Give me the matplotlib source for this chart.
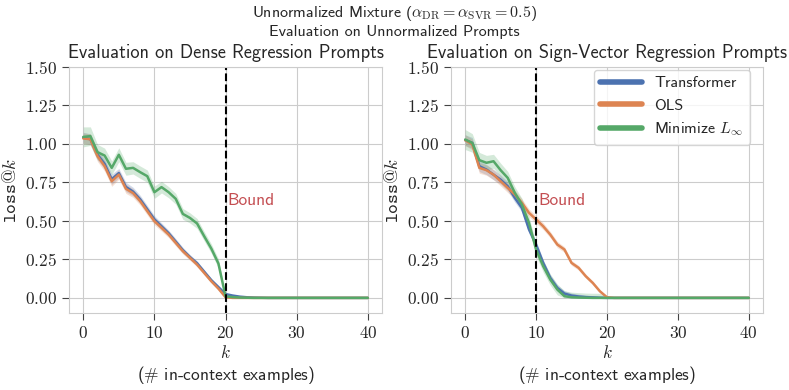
import matplotlib
matplotlib.use("Agg")
import matplotlib.pyplot as plt
import seaborn as sns
import numpy as np
from matplotlib.ticker import FuncFormatter

# k = number of in-context examples
k = list(range(41))

# Dense regression prompts (left panel)
dense_transformer = [1.04, 1.03, 0.93, 0.87, 0.77, 0.81, 0.72, 0.69, 0.64, 0.575,
                     0.51, 0.465, 0.42, 0.365, 0.31, 0.265, 0.225, 0.17, 0.115, 0.07,
                     0.025, 0.015, 0.008, 0.004, 0.002, 0.001, 0.0, 0.0, 0.0, 0.0,
                     0.0, 0.0, 0.0, 0.0, 0.0, 0.0, 0.0, 0.0, 0.0, 0.0, 0.0]
dense_ols = [1.035, 1.03, 0.92, 0.855, 0.757, 0.80, 0.708, 0.68, 0.628, 0.563,
             0.498, 0.455, 0.411, 0.357, 0.303, 0.26, 0.216, 0.162, 0.108, 0.06,
             0.004, 0.0, 0.0, 0.0, 0.0, 0.0, 0.0, 0.0, 0.0, 0.0,
             0.0, 0.0, 0.0, 0.0, 0.0, 0.0, 0.0, 0.0, 0.0, 0.0, 0.0]
dense_linf = [1.045, 1.05, 0.946, 0.924, 0.844, 0.929, 0.838, 0.844, 0.816, 0.79,
              0.686, 0.719, 0.686, 0.643, 0.545, 0.519, 0.483, 0.40, 0.32, 0.223,
              0.01, 0.005, 0.002, 0.001, 0.0, 0.0, 0.0, 0.0, 0.0, 0.0,
              0.0, 0.0, 0.0, 0.0, 0.0, 0.0, 0.0, 0.0, 0.0, 0.0, 0.0]

# Sign-vector regression prompts (right panel)
svr_transformer = [1.024, 1.006, 0.855, 0.833, 0.80, 0.768, 0.725, 0.649, 0.584, 0.444,
                   0.346, 0.227, 0.13, 0.065, 0.028, 0.015, 0.009, 0.005, 0.003, 0.001,
                   0.0, 0.0, 0.0, 0.0, 0.0, 0.0, 0.0, 0.0, 0.0, 0.0,
                   0.0, 0.0, 0.0, 0.0, 0.0, 0.0, 0.0, 0.0, 0.0, 0.0, 0.0]
svr_ols = [1.024, 0.996, 0.844, 0.829, 0.80, 0.757, 0.714, 0.671, 0.617, 0.552,
           0.509, 0.465, 0.411, 0.346, 0.314, 0.227, 0.195, 0.141, 0.097, 0.043,
           0.004, 0.0, 0.0, 0.0, 0.0, 0.0, 0.0, 0.0, 0.0, 0.0,
           0.0, 0.0, 0.0, 0.0, 0.0, 0.0, 0.0, 0.0, 0.0, 0.0, 0.0]
svr_linf = [1.028, 1.006, 0.894, 0.877, 0.887, 0.829, 0.779, 0.682, 0.606, 0.487,
            0.314, 0.206, 0.119, 0.054, 0.011, 0.004, 0.002, 0.001, 0.0, 0.0,
            0.0, 0.0, 0.0, 0.0, 0.0, 0.0, 0.0, 0.0, 0.0, 0.0,
            0.0, 0.0, 0.0, 0.0, 0.0, 0.0, 0.0, 0.0, 0.0, 0.0, 0.0]

# half-widths of the shaded bands
err_base = [0.035, 0.035, 0.035, 0.033, 0.033, 0.03, 0.03, 0.028, 0.026, 0.025,
            0.024, 0.022, 0.02, 0.02, 0.018, 0.016, 0.015, 0.013, 0.012, 0.01,
            0.006, 0.004, 0.002, 0.001, 0.0, 0.0, 0.0, 0.0, 0.0, 0.0,
            0.0, 0.0, 0.0, 0.0, 0.0, 0.0, 0.0, 0.0, 0.0, 0.0, 0.0]
err_linf = [0.065, 0.06, 0.05, 0.048, 0.045, 0.045, 0.042, 0.04, 0.04, 0.04,
            0.04, 0.038, 0.036, 0.035, 0.035, 0.033, 0.032, 0.03, 0.03, 0.03,
            0.008, 0.003, 0.001, 0.0, 0.0, 0.0, 0.0, 0.0, 0.0, 0.0,
            0.0, 0.0, 0.0, 0.0, 0.0, 0.0, 0.0, 0.0, 0.0, 0.0, 0.0]

labels = ["Transformer", "OLS", r"Minimize $L_\infty$"]
panel_titles = ["Evaluation on Dense Regression Prompts",
                "Evaluation on Sign-Vector Regression Prompts"]
bounds = [20, 10]
y_ticks = [0.0, 0.25, 0.5, 0.75, 1.0, 1.25, 1.5]
x_ticks = [0, 10, 20, 30, 40]

sns.set_style("whitegrid", {"xtick.bottom": True, "ytick.left": True})
plt.rcParams["font.family"] = ["cmss10", "DejaVu Sans"]
plt.rcParams["mathtext.fontset"] = "cm"
plt.rcParams["axes.unicode_minus"] = False
plt.rcParams["axes.formatter.use_mathtext"] = True

colors = sns.color_palette("deep")[:3]

fig = plt.figure(figsize=(7.89, 3.90), dpi=100)
ax1 = fig.add_axes([0.0875, 0.1967, 0.3967, 0.632])
ax2 = fig.add_axes([0.5716, 0.1967, 0.3954, 0.632])

panels = [
    (ax1, [dense_transformer, dense_ols, dense_linf]),
    (ax2, [svr_transformer, svr_ols, svr_linf]),
]
errs = [err_base, err_base, err_linf]

for i, (ax, series) in enumerate(panels):
    for s, e, c, lab in zip(series, errs, colors, labels):
        s = np.array(s)
        e = np.array(e)
        ax.fill_between(k, np.clip(s - e, 0, None), s + e, color=c, alpha=0.25, lw=0)
        ax.plot(k, s, color=c, lw=1.8, label=lab)
    ax.axvline(bounds[i], color="black", ls="--", lw=1.5)
    ax.text(bounds[i] + 0.3, 0.6, "Bound", color="#C44E52", fontsize=12.5)
    ax.set_xlim(-2, 42)
    ax.set_ylim(-0.1, 1.5)
    ax.set_xticks(x_ticks)
    ax.set_yticks(y_ticks)
    ax.xaxis.set_major_formatter(FuncFormatter(lambda v, p: f"${v:.0f}$"))
    ax.yaxis.set_major_formatter(FuncFormatter(lambda v, p: f"${v:.2f}$"))
    ax.tick_params(labelsize=12.5, length=5, color="#444444")
    ax.set_title(panel_titles[i], fontsize=13.2, pad=6)
    ax.set_xlabel("$k$\n" + r"($\#$ in-context examples)", fontsize=12.5, labelpad=2)
    ax.set_ylabel(r"$\mathtt{loss@}k$", fontsize=13.5, labelpad=4)
    for sp in ax.spines.values():
        sp.set_color("#cccccc")

leg = ax2.legend(loc="upper right", bbox_to_anchor=(0.958, 0.988), borderaxespad=0,
                 fontsize=11.5, handlelength=2.6, framealpha=0.8)
for line in leg.get_lines():
    line.set_linewidth(4)

fig.suptitle(r"Unnormalized Mixture ($\alpha_{\rm DR} = \alpha_{\rm SVR} = 0.5$)" + "\n"
             + "Evaluation on Unnormalized Prompts", fontsize=11.5, y=0.99, linespacing=1.2)

fig.savefig("out.png", dpi=100)
